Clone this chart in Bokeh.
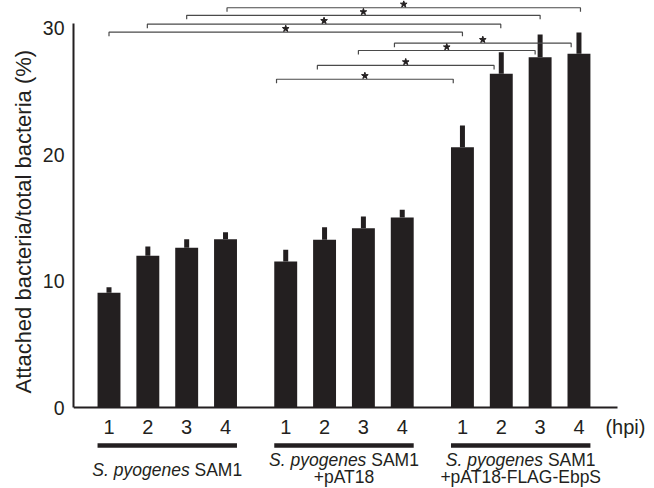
from bokeh.plotting import figure
from bokeh.models import Range1d, FixedTicker, Title
from bokeh.core.properties import value
from bokeh.embed import file_html
from bokeh.resources import INLINE

# ---------------- data ----------------
hpi_labels = ["1", "2", "3", "4"]
group_italic = ["S. pyogenes", "S. pyogenes", "S. pyogenes"]
group_plain = ["SAM1", "SAM1", "SAM1"]
group_line2 = ["", "+pAT18", "+pAT18-FLAG-EbpS"]

sam1 = [9.07, 11.99, 12.62, 13.30]
sam1_err = [0.44, 0.74, 0.68, 0.56]
pat18 = [11.54, 13.26, 14.17, 15.02]
pat18_err = [0.93, 0.99, 0.93, 0.61]
ebps = [20.58, 26.38, 27.69, 27.96]
ebps_err = [1.71, 1.71, 1.80, 1.68]

y_ticks = [0, 10, 20, 30]
y_label = "Attached bacteria/total bacteria (%)"
unit_label = "(hpi)"

# significance comparisons: (group, hpi index) left/right and bracket level (%)
sig_left = [(0, 3), (0, 2), (0, 1), (0, 0), (1, 3), (1, 2), (1, 1), (1, 0)]
sig_right = [(2, 3), (2, 2), (2, 1), (2, 0), (2, 3), (2, 2), (2, 1), (2, 0)]
sig_level = [31.6, 31.0, 30.3, 29.67, 28.8, 28.22, 27.04, 25.95]

# ---------------- layout / style ----------------
INK = "#231f20"
FONT = value("Liberation Sans")
W, H = 654, 488
FRAME_LEFT = 73
PX_X = 38.84          # pixels per bar step
GROUP_STEP = 4.55     # bar steps between first bars of groups
BAR_W = 0.59
ZERO_PX = 407         # y pixel (from top of figure) of value 0
PX_Y = 12.65
Y_TOP = ZERO_PX / PX_Y
sig_shift_px = [1.5, 0, -0.5, 0, -7.8, -5.0, -7.2, -9.2]

x_start = -35.5 / PX_X
x_end = x_start + (W - FRAME_LEFT) / PX_X
y_start = -(H - ZERO_PX) / PX_Y

groups = [(sam1, sam1_err), (pat18, pat18_err), (ebps, ebps_err)]


def bar_x(g, i):
    return g * GROUP_STEP + i


xs, tops, errs = [], [], []
for g, (vals, es) in enumerate(groups):
    for i, (v, e) in enumerate(zip(vals, es)):
        xs.append(bar_x(g, i))
        tops.append(v)
        errs.append(v + e)

p = figure(width=W, height=H, x_range=Range1d(x_start, x_end),
           y_range=Range1d(y_start, Y_TOP), x_axis_location=None,
           toolbar_location=None, output_backend="svg",
           min_border_left=FRAME_LEFT, min_border_right=0,
           min_border_top=0, min_border_bottom=0,
           outline_line_color=None, background_fill_color="white")
p.grid.grid_line_color = None

# y axis
ya = p.yaxis[0]
ya.ticker = FixedTicker(ticks=y_ticks)
ya.bounds = (0, 30.38)
ya.axis_line_width = 2
ya.axis_line_color = INK
ya.major_tick_line_color = None
ya.minor_tick_line_color = None
ya.major_tick_out = 0
ya.major_tick_in = 0
ya.major_label_standoff = 9
ya.major_label_text_font = "Liberation Sans"
ya.major_label_text_font_size = "19.5px"
ya.major_label_text_color = INK

p.add_layout(Title(text=y_label, align="left", offset=95, standoff=8,
                   text_font="Liberation Sans", text_font_size="22px",
                   text_font_style="normal", text_color=INK), "left")

# x axis line
p.segment(x0=[x_start], y0=[0], x1=[x_start + 544 / PX_X], y1=[0],
          line_width=2, line_color=INK)

# bars and error bars
p.vbar(x=xs, top=tops, bottom=0, width=BAR_W, fill_color=INK, line_color=None)
p.segment(x0=xs, y0=tops, x1=xs, y1=errs, line_width=5, line_color=INK,
          line_cap="butt")

# significance brackets
tick = 4 / PX_Y
for (lg, li), (rg, ri), lvl, sh in zip(sig_left, sig_right, sig_level, sig_shift_px):
    x0 = bar_x(lg, li) + sh / PX_X
    x1 = bar_x(rg, ri) + sh / PX_X
    p.line(x=[x0, x0, x1, x1], y=[lvl - tick, lvl, lvl, lvl - tick],
           line_width=1.2, line_color="#4a4a4a")
    p.scatter(x=[(x0 + x1) / 2], y=[lvl + 3.5 / PX_Y], marker="star", size=7,
              fill_color=INK, line_color=INK)

# hpi tick labels
p.text(x=xs, y=[-19.7 / PX_Y] * len(xs), text=hpi_labels * len(groups),
       text_font=FONT, text_font_size="20px", text_align="center",
       text_baseline="middle", text_color=INK)
p.text(x=[bar_x(2, 3) + 26.5 / PX_X], y=[-19.7 / PX_Y], text=[unit_label],
       text_font=FONT, text_font_size="20px", text_align="left",
       text_baseline="middle", text_color=INK)

# group underlines and labels
GL_SIZE = 17.5
EM_ITALIC, EM_SPACE, EM_PLAIN = 5.559, 0.278, 2.723
for g in range(len(groups)):
    xl = bar_x(g, 0) - BAR_W / 2
    xr = bar_x(g, 3) + BAR_W / 2
    p.segment(x0=[xl], y0=[-38 / PX_Y], x1=[xr], y1=[-38 / PX_Y],
              line_width=4.5, line_color=INK, line_cap="butt")
    cx = (bar_x(g, 0) + bar_x(g, 3)) / 2
    total = (EM_ITALIC + EM_SPACE + EM_PLAIN) * GL_SIZE
    anchor = cx + (EM_ITALIC * GL_SIZE - total / 2) / PX_X
    anchor2 = anchor + EM_SPACE * GL_SIZE / PX_X
    if group_line2[g]:
        y1, y2 = -52 / PX_Y, -69.5 / PX_Y
    else:
        y1, y2 = -62 / PX_Y, None
    p.text(x=[anchor], y=[y1], text=[group_italic[g]], text_font=FONT,
           text_font_size=f"{GL_SIZE}px", text_font_style="italic",
           text_align="right", text_baseline="middle", text_color=INK)
    p.text(x=[anchor2], y=[y1], text=[group_plain[g]], text_font=FONT,
           text_font_size=f"{GL_SIZE}px", text_align="left",
           text_baseline="middle", text_color=INK)
    if y2 is not None:
        p.text(x=[cx], y=[y2], text=[group_line2[g]], text_font=FONT,
               text_font_size=f"{GL_SIZE}px", text_align="center",
               text_baseline="middle", text_color=INK)

open("out.html", "w").write(file_html(p, INLINE))
